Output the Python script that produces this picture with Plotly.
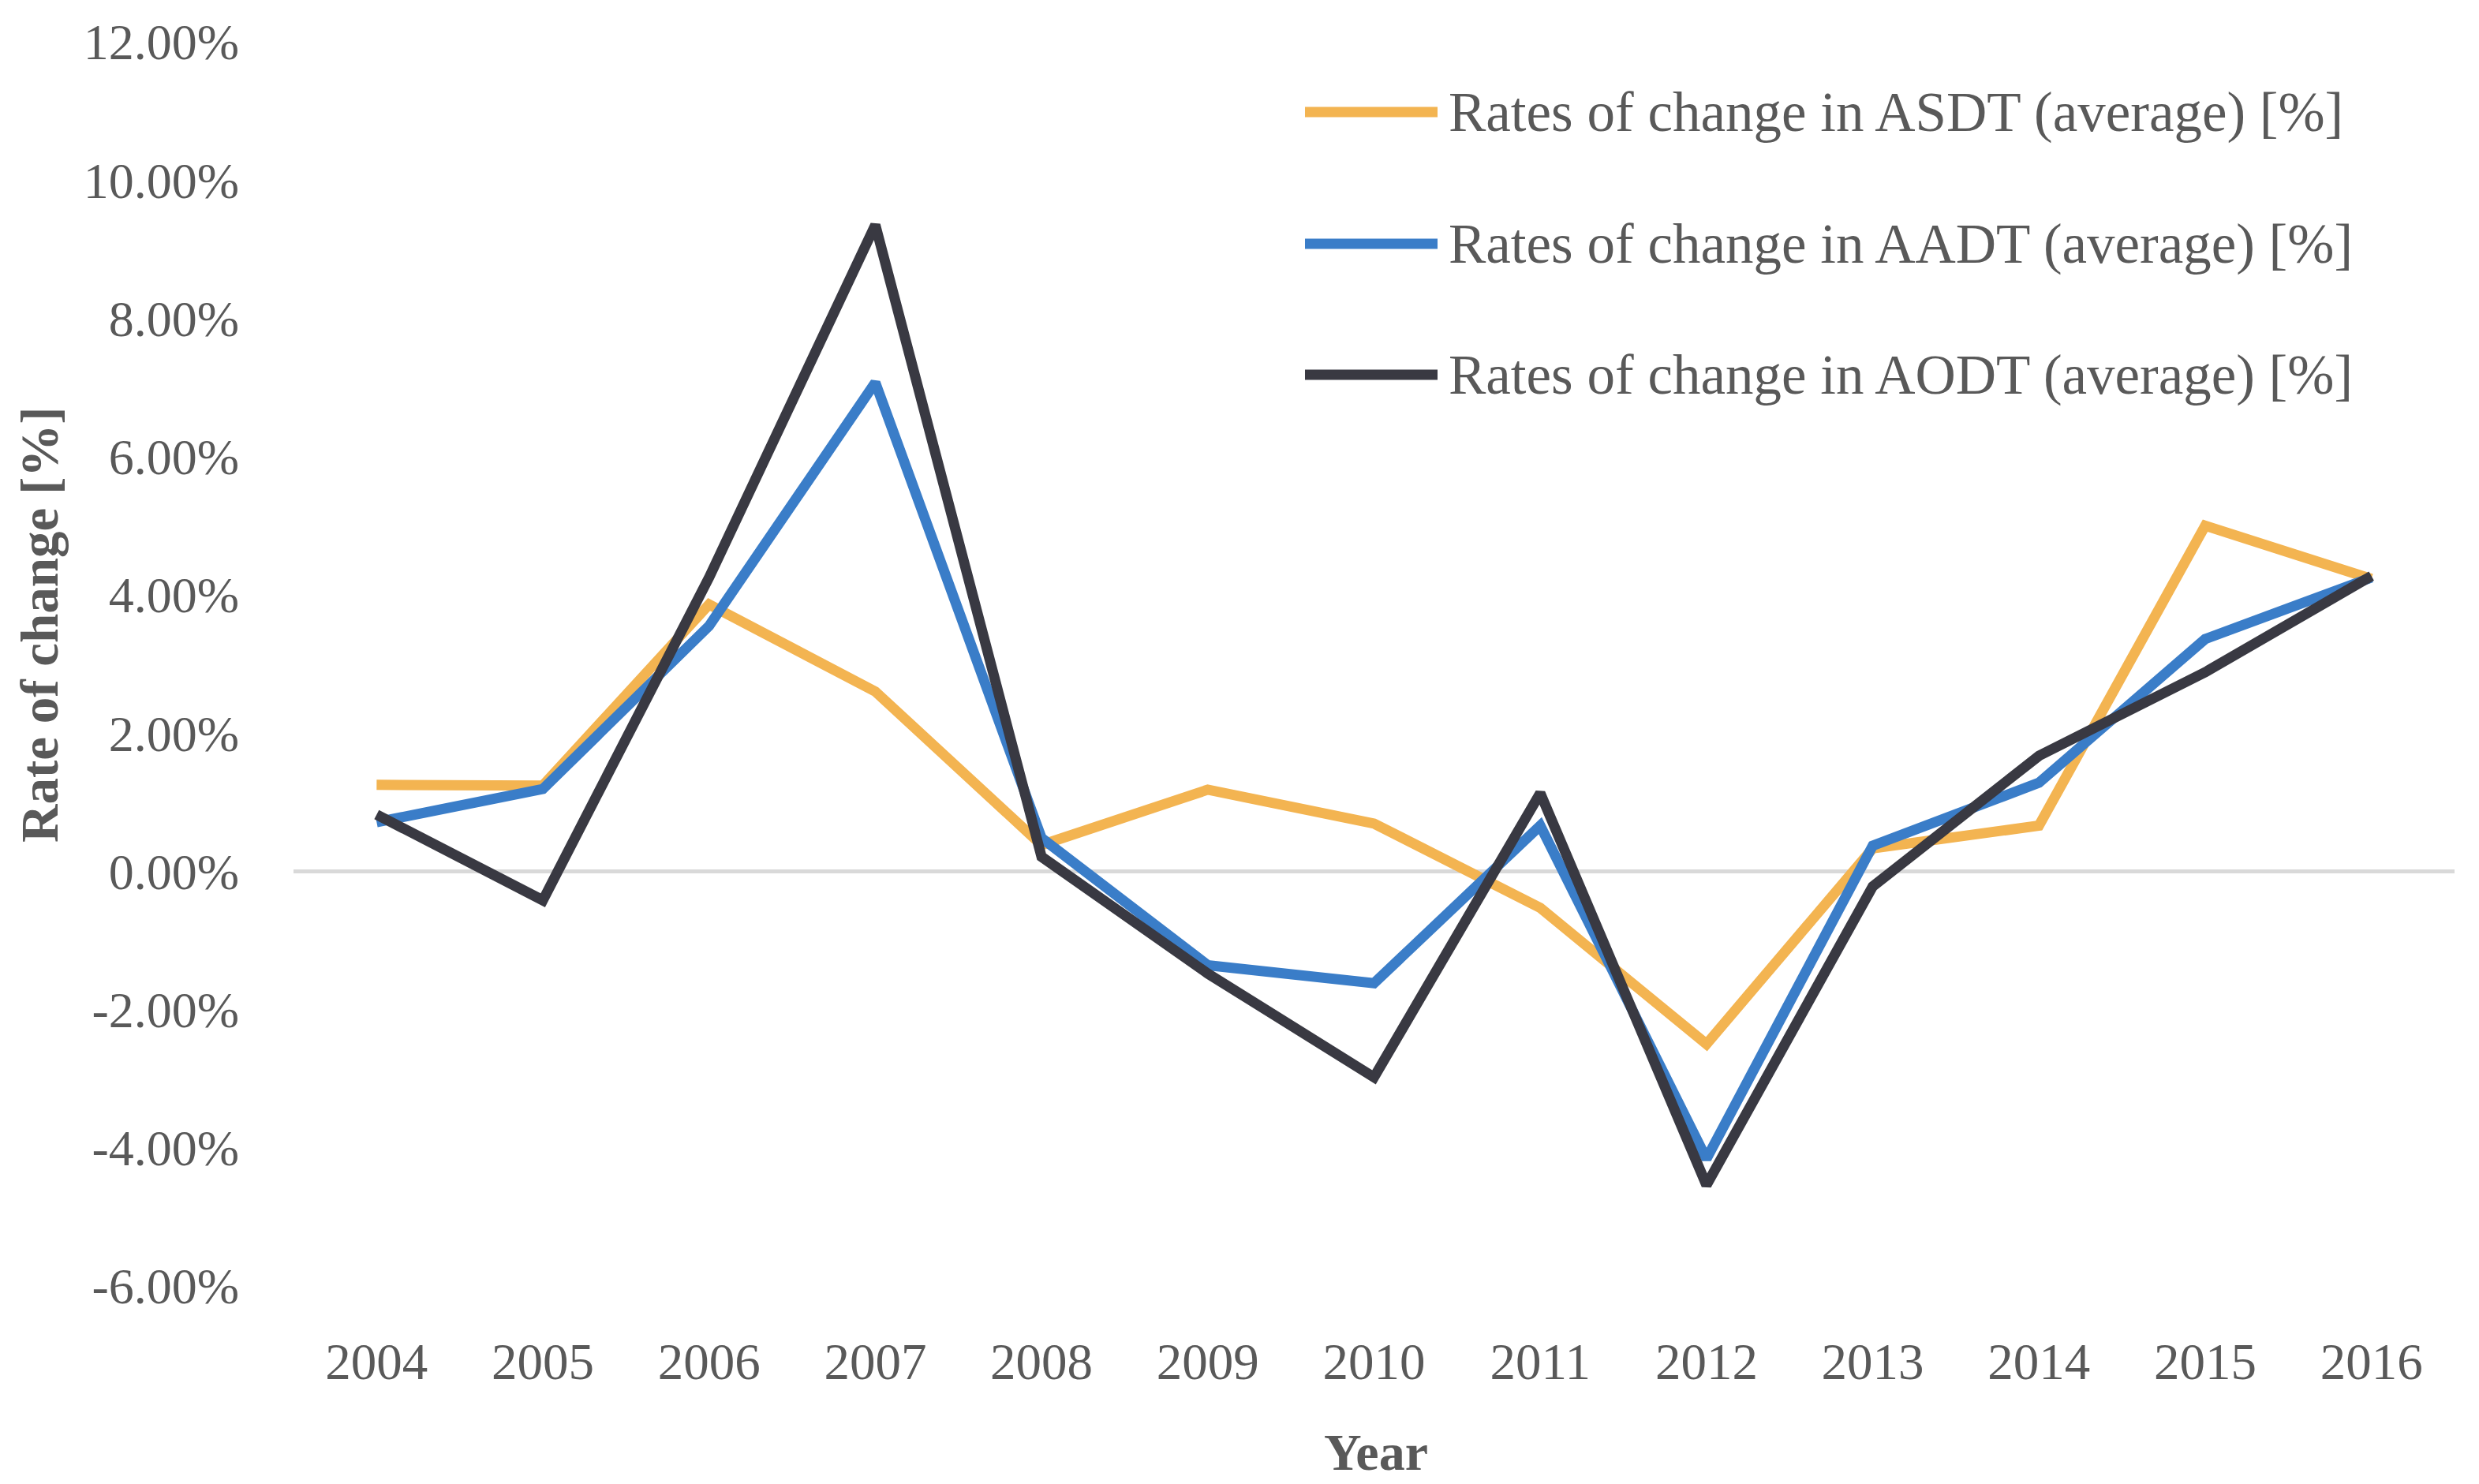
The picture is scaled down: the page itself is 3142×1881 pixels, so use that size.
import plotly.graph_objects as go

years = ["2004", "2005", "2006", "2007", "2008", "2009", "2010", "2011", "2012", "2013", "2014", "2015", "2016"]
asdt = [1.25, 1.24, 3.86, 2.60, 0.38, 1.18, 0.69, -0.53, -2.50, 0.33, 0.66, 5.00, 4.23]
aadt = [0.71, 1.19, 3.55, 7.07, 0.48, -1.36, -1.62, 0.66, -4.16, 0.37, 1.28, 3.36, 4.25]
aodt = [0.82, -0.42, 4.25, 9.35, 0.21, -1.48, -2.98, 1.13, -4.54, -0.22, 1.67, 2.88, 4.27]
series_names = ["Rates of change in ASDT (average) [%]",
                "Rates of change in AADT (average) [%]",
                "Rates of change in AODT (average) [%]"]
series_values = [asdt, aadt, aodt]
colors = ["#F3B451", "#3A7DC8", "#393942"]
y_ticks = [-6, -4, -2, 0, 2, 4, 6, 8, 10, 12]
y_tick_labels = ["%.2f%%" % v for v in y_ticks]

FONT = "Palatino Linotype, Book Antiqua, Palatino, Liberation Serif, serif"
TXT = "#595959"

fig = go.Figure()
for name, vals, col in zip(series_names, series_values, colors):
    fig.add_trace(go.Scatter(x=years, y=vals, mode="lines", name=name,
                             line=dict(color=col, width=13), showlegend=False))

W, H = 3142, 1881
L, R, T, B = 364, 39, 45, 259
pw, ph = W - L - R, H - T - B

def px(x):
    return (x - L) / pw

def py(y):
    return (H - B - y) / ph

shapes = []
annotations = []
legend_y = [134, 301, 467]
for name, col, ly in zip(series_names, colors, legend_y):
    shapes.append(dict(type="line", xref="paper", yref="paper",
                       x0=px(1646), x1=px(1814), y0=py(ly), y1=py(ly),
                       line=dict(color=col, width=13)))
    annotations.append(dict(text=name, xref="paper", yref="paper",
                            x=px(1826), y=py(ly), xanchor="left", yanchor="middle",
                            showarrow=False, font=dict(family=FONT, size=71, color=TXT)))

annotations.append(dict(text="<b>Year</b>", xref="paper", yref="paper",
                        x=px(1736), y=py(1832), xanchor="center", yanchor="middle",
                        showarrow=False, font=dict(family=FONT, size=66, color=TXT)))
annotations.append(dict(text="<b>Rate of change [%]</b>", xref="paper", yref="paper",
                        x=px(42), y=py(784), xanchor="center", yanchor="middle",
                        textangle=-90, showarrow=False,
                        font=dict(family=FONT, size=67, color=TXT)))

fig.update_layout(
    width=W, height=H,
    margin=dict(l=L, r=R, t=T, b=B, autoexpand=False),
    paper_bgcolor="white", plot_bgcolor="white",
    font=dict(family=FONT, size=64, color=TXT),
    shapes=shapes, annotations=annotations,
    showlegend=False,
)
fig.update_xaxes(type="category", range=[-0.5, 12.5], showgrid=False, showline=False,
                 zeroline=False, ticks="", ticklabelstandoff=52,
                 tickfont=dict(family=FONT, size=65, color=TXT))
fig.update_yaxes(range=[-6, 12], tickvals=y_ticks, ticktext=y_tick_labels,
                 showgrid=False, showline=False, zeroline=True,
                 zerolinecolor="#D9D9D9", zerolinewidth=5, ticks="",
                 ticklabelstandoff=68,
                 tickfont=dict(family=FONT, size=64, color=TXT))

fig.write_html("out.html")
